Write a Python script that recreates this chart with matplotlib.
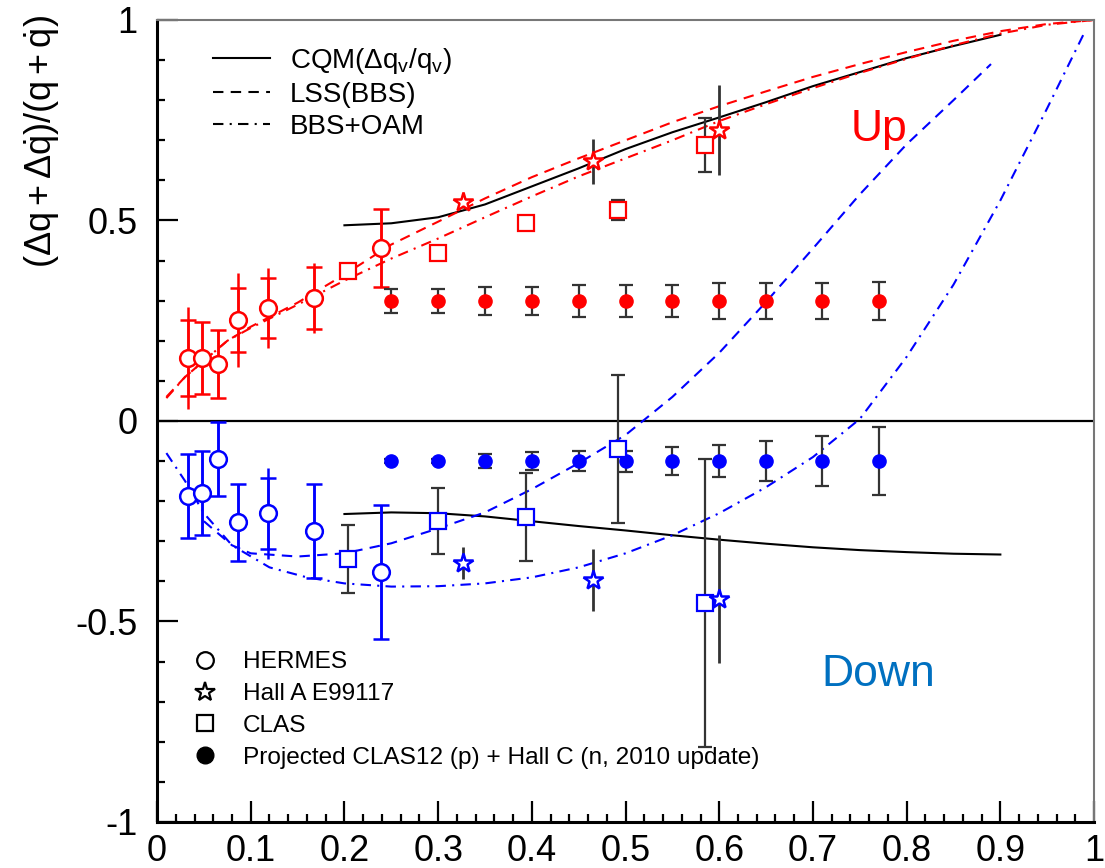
import matplotlib
import numpy as np

matplotlib.use("Agg")
import matplotlib.pyplot as plt
from matplotlib.lines import Line2D

plt.rcParams["font.family"] = ["Liberation Sans", "DejaVu Sans"]
plt.rcParams["mathtext.fontset"] = "custom"
plt.rcParams["mathtext.rm"] = "Liberation Sans"
plt.rcParams["mathtext.it"] = "Liberation Sans"
plt.rcParams["mathtext.bf"] = "Liberation Sans:bold"

RED = "#ff0000"
BLUE = "#0000ff"
ERR = "#333333"

# HERMES (open circles)
hermes_x = [0.033, 0.048, 0.065, 0.086, 0.118, 0.167, 0.239]
hermes_up = [0.157, 0.157, 0.142, 0.252, 0.282, 0.307, 0.431]
hermes_up_stat = [0.095, 0.09, 0.085, 0.08, 0.075, 0.077, 0.097]
hermes_up_tot = [0.128, 0.09, 0.085, 0.117, 0.10, 0.087, 0.097]
hermes_down = [-0.187, -0.18, -0.095, -0.252, -0.23, -0.274, -0.377]
hermes_down_stat = [0.105, 0.105, 0.092, 0.096, 0.088, 0.117, 0.167]
hermes_down_tot = [0.105, 0.105, 0.092, 0.096, 0.113, 0.117, 0.167]

# Hall A E99117 (stars)
halla_x = [0.327, 0.465, 0.60]
halla_up = [0.546, 0.648, 0.726]
halla_up_err = [0.015, 0.056, 0.112]
halla_down = [-0.355, -0.397, -0.444]
halla_down_err = [0.04, 0.077, 0.16]

# CLAS (open squares)
clas_x = [0.204, 0.30, 0.394, 0.492, 0.585]
clas_up = [0.374, 0.419, 0.494, 0.526, 0.688]
clas_up_err = [0.0, 0.0, 0.0, 0.026, 0.067]
clas_down = [-0.344, -0.249, -0.24, -0.07, -0.454]
clas_down_err = [0.085, 0.082, 0.11, 0.185, 0.36]

# projected CLAS12 + Hall C (filled circles)
proj_x = [0.25, 0.30, 0.35, 0.40, 0.45, 0.50, 0.55, 0.60, 0.65, 0.71, 0.77]
proj_up = [0.30] * 11
proj_up_err = [0.03, 0.03, 0.035, 0.035, 0.04, 0.04, 0.04, 0.045, 0.045, 0.045, 0.047]
proj_down = [-0.10] * 11
proj_down_err = [0.004, 0.004, 0.018, 0.022, 0.025, 0.026, 0.035, 0.04, 0.05, 0.062, 0.085]

# CQM curves
cqm_x = [0.2, 0.25, 0.3, 0.35, 0.4, 0.45, 0.5, 0.55, 0.6, 0.65, 0.7, 0.75, 0.8, 0.85, 0.9]
cqm_up = [0.488, 0.493, 0.508, 0.54, 0.585, 0.63, 0.678, 0.72, 0.757, 0.795, 0.835, 0.87,
          0.905, 0.935, 0.963]
cqm_down = [-0.232, -0.228, -0.23, -0.238, -0.25, -0.262, -0.273, -0.285, -0.296,
            -0.306, -0.315, -0.322, -0.327, -0.331, -0.333]

# LSS(BBS) curves
lss_up_x = [0.01, 0.03, 0.075, 0.1, 0.15, 0.2, 0.25, 0.3, 0.35, 0.4, 0.45, 0.5, 0.55,
            0.6, 0.65, 0.7, 0.75, 0.8, 0.85, 0.9, 0.95, 1.0]
lss_up = [0.06, 0.11, 0.2, 0.235, 0.295, 0.365, 0.44, 0.497, 0.555, 0.608, 0.655, 0.7,
          0.745, 0.785, 0.822, 0.858, 0.89, 0.92, 0.948, 0.972, 0.99, 1.0]
lss_down_x = [0.05, 0.08, 0.1, 0.15, 0.2, 0.25, 0.3, 0.35, 0.4, 0.45, 0.5, 0.55, 0.6,
              0.65, 0.7, 0.75, 0.8, 0.85, 0.89]
lss_down = [-0.25, -0.31, -0.33, -0.338, -0.33, -0.305, -0.268, -0.228, -0.17, -0.105,
            -0.035, 0.06, 0.17, 0.297, 0.43, 0.565, 0.69, 0.80, 0.89]

# BBS+OAM curves
oam_up_x = [0.01, 0.03, 0.075, 0.1, 0.15, 0.2, 0.25, 0.3, 0.35, 0.4, 0.45, 0.5, 0.55,
            0.6, 0.65, 0.7, 0.75, 0.8, 0.85, 0.9, 0.95, 1.0]
oam_up = [0.057, 0.11, 0.2, 0.232, 0.29, 0.35, 0.405, 0.455, 0.508, 0.56, 0.61, 0.655,
          0.7, 0.748, 0.79, 0.83, 0.868, 0.903, 0.937, 0.966, 0.988, 1.0]
oam_down_x = [0.01, 0.03, 0.05, 0.08, 0.12, 0.16, 0.2, 0.25, 0.3, 0.35, 0.4, 0.45, 0.5,
              0.55, 0.6, 0.65, 0.7, 0.75, 0.8, 0.85, 0.9, 0.95, 0.99]
oam_down = [-0.08, -0.15, -0.23, -0.31, -0.365, -0.39, -0.405, -0.413, -0.412, -0.405,
            -0.39, -0.365, -0.33, -0.285, -0.23, -0.165, -0.09, 0.005, 0.16, 0.34, 0.55,
            0.78, 0.97]

x_ticks = [0, 0.1, 0.2, 0.3, 0.4, 0.5, 0.6, 0.7, 0.8, 0.9, 1.0]
x_labels = ["0", "0.1", "0.2", "0.3", "0.4", "0.5", "0.6", "0.7", "0.8", "0.9", "1"]
y_ticks = [-1, -0.5, 0, 0.5, 1]
y_labels = ["-1", "-0.5", "0", "0.5", "1"]

DASHED = (0, (5, 3.5))
DASHDOT = (0, (5, 3, 1, 3))

fig = plt.figure(figsize=(11.05, 8.68), dpi=100)
ax = fig.add_axes([0.1421, 0.053, 0.848, 0.924])

ax.axhline(0, color="black", linewidth=1.6, zorder=1)

# model curves
ax.plot(cqm_x, cqm_up, color="black", linewidth=1.5, zorder=2)
ax.plot(cqm_x, cqm_down, color="black", linewidth=1.5, zorder=2)
ax.plot(lss_up_x, lss_up, color=RED, linestyle=DASHED, linewidth=1.5, zorder=2)
ax.plot(oam_up_x, oam_up, color=RED, linestyle=DASHDOT, linewidth=1.5, zorder=2)
ax.plot(lss_down_x, lss_down, color=BLUE, linestyle=DASHED, linewidth=1.5, zorder=2)
ax.plot(oam_down_x, oam_down, color=BLUE, linestyle=DASHDOT, linewidth=1.5, zorder=2)

# projected points
for y, err, color in ((proj_up, proj_up_err, RED), (proj_down, proj_down_err, BLUE)):
    ax.errorbar(proj_x, y, yerr=err, fmt="o", color=color, ms=9.5, ecolor=ERR,
                elinewidth=1.6, capsize=5, capthick=1.6, zorder=4)

# CLAS
for y, err, color in ((clas_up, clas_up_err, RED), (clas_down, clas_down_err, BLUE)):
    ax.errorbar(clas_x, y, yerr=err, fmt="none", ecolor=ERR, elinewidth=1.6,
                capsize=5, capthick=1.6, zorder=3)
    ax.plot(clas_x, y, "s", ms=11, mfc="white", mec=color, mew=1.6, zorder=5)

# Hall A
for y, err, color in ((halla_up, halla_up_err, RED), (halla_down, halla_down_err, BLUE)):
    ax.errorbar(halla_x, y, yerr=err, fmt="none", ecolor=ERR, elinewidth=2, zorder=3)
    ax.plot(halla_x, y, "*", ms=15, mfc="white", mec=color, mew=1.8, zorder=5)

# HERMES
for y, stat, tot, color in ((hermes_up, hermes_up_stat, hermes_up_tot, RED),
                            (hermes_down, hermes_down_stat, hermes_down_tot, BLUE)):
    ax.errorbar(hermes_x, y, yerr=tot, fmt="none", ecolor=color, elinewidth=1.8, zorder=3)
    ax.errorbar(hermes_x, y, yerr=stat, fmt="none", ecolor=color, elinewidth=1.8,
                capsize=5.5, capthick=1.8, zorder=3)
    ax.plot(hermes_x, y, "o", ms=12, mfc="white", mec=color, mew=1.8, zorder=5)

ax.text(0.77, 0.726, "Up", color=RED, fontsize=32, ha="center", va="center")
ax.text(0.77, -0.633, "Down", color="#0070c0", fontsize=32, ha="center", va="center")

ax.set_xlim(0, 1)
ax.set_ylim(-1, 1)
ax.set_xticks(x_ticks, x_labels)
ax.set_yticks(y_ticks, y_labels)
ax.set_xticks(np.arange(0, 1.001, 0.02), minor=True)
ax.set_yticks(np.arange(-1, 1.001, 0.1), minor=True)
ax.tick_params(which="both", direction="in", top=False, right=False, width=1.6,
               labelsize=26, color="black")
ax.tick_params(which="major", length=15)
ax.tick_params(which="minor", length=6)
ax.tick_params(axis="x", pad=9)
ax.tick_params(axis="y", pad=14)
for side in ("left", "bottom"):
    ax.spines[side].set_linewidth(2.2)
for side in ("top", "right"):
    ax.spines[side].set_linewidth(1.5)
    ax.spines[side].set_color("#777777")

fig.text(42 / 1105, 1 - 142 / 868, r"$(\Delta q+\Delta \dot{q})/(q+\dot{q})$",
         rotation=90, ha="center", va="center", fontsize=26)

model_handles = [
    Line2D([], [], color="black", linewidth=1.5),
    Line2D([], [], color="black", linewidth=1.5, linestyle=DASHED),
    Line2D([], [], color="black", linewidth=1.5, linestyle=DASHDOT),
]
model_labels = [r"CQM($\Delta q_v/q_v$)", "LSS(BBS)", "BBS+OAM"]
leg1 = ax.legend(model_handles, model_labels, loc="upper left",
                 bbox_to_anchor=(0.06, 0.968), frameon=False, fontsize=20,
                 handlelength=2.05, handletextpad=0.72, labelspacing=0.22,
                 borderpad=0, borderaxespad=0)
ax.add_artist(leg1)

data_handles = [
    Line2D([], [], marker="o", ls="none", ms=12, mfc="white", mec="black", mew=1.6),
    Line2D([], [], marker="*", ls="none", ms=15, mfc="white", mec="black", mew=1.6),
    Line2D([], [], marker="s", ls="none", ms=11, mfc="white", mec="black", mew=1.6),
    Line2D([], [], marker="o", ls="none", ms=12, color="black"),
]
data_labels = ["HERMES", "Hall A E99117", "CLAS",
               "Projected CLAS12 (p) + Hall C (n, 2010 update)"]
ax.legend(data_handles, data_labels, loc="upper left", bbox_to_anchor=(0.038, 0.213),
          frameon=False, fontsize=17.6, handlelength=1.0, handletextpad=1.05,
          labelspacing=0.4, borderpad=0, borderaxespad=0)

fig.savefig("out.png", dpi=100)
